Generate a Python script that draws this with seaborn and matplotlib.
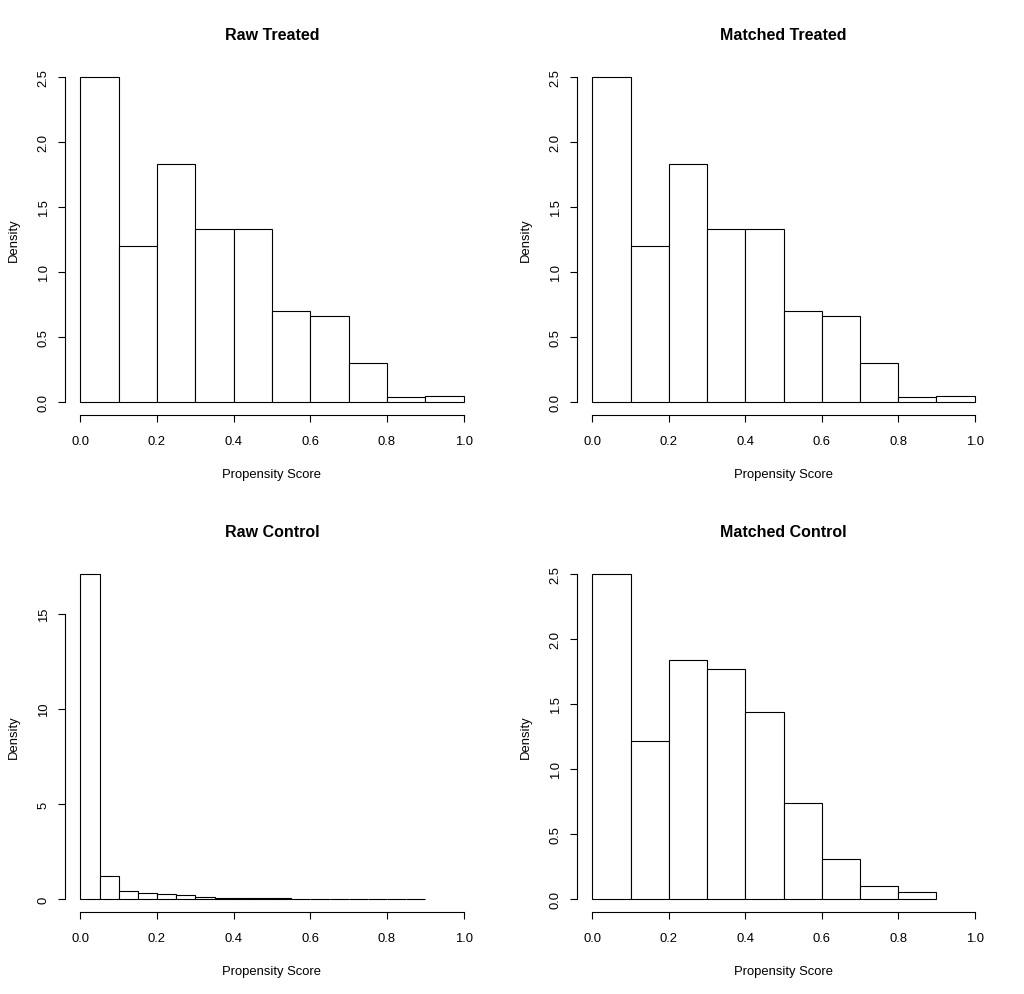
import numpy as np
import pandas as pd
import matplotlib
matplotlib.use("Agg")
import matplotlib.pyplot as plt
from matplotlib.ticker import FormatStrFormatter
import seaborn as sns

# histogram densities
treated_range = (0.0, 1.0)
treated_width = 0.1
raw_treated = [2.50, 1.20, 1.83, 1.33, 1.33, 0.70, 0.66, 0.30, 0.036, 0.05]
matched_treated = [2.50, 1.20, 1.83, 1.33, 1.33, 0.70, 0.66, 0.30, 0.036, 0.05]

raw_control_range = (0.0, 0.9)
raw_control_width = 0.05
raw_control = [17.12, 1.21, 0.42, 0.32, 0.26, 0.21, 0.105, 0.047, 0.047,
               0.047, 0.047, 0, 0, 0, 0, 0, 0, 0]

matched_control_range = (0.0, 0.9)
matched_control_width = 0.1
matched_control = [2.50, 1.216, 1.84, 1.77, 1.44, 0.74, 0.31, 0.10, 0.054]

x_ticks = [0.0, 0.2, 0.4, 0.6, 0.8, 1.0]
small_yticks = [0.0, 0.5, 1.0, 1.5, 2.0, 2.5]
big_yticks = [0, 5, 10, 15]

sns.set_style("ticks")
plt.rcParams['font.family'] = ['Liberation Sans', 'DejaVu Sans']
plt.rcParams.update({"text.color": "black", "axes.labelcolor": "black",
                     "xtick.color": "black", "ytick.color": "black",
                     "axes.edgecolor": "black"})

W, H = 1024, 995
fig = plt.figure(figsize=(W / 100, H / 100), dpi=100)


def add_panel(px_left, px_top, px_right, px_bottom):
    return fig.add_axes([px_left / W, 1 - px_bottom / H,
                         (px_right - px_left) / W, (px_bottom - px_top) / H])


def draw_hist(ax, binrange, binwidth, dens, title, yticks, yfmt):
    mids = binrange[0] + binwidth * (np.arange(len(dens)) + 0.5)
    df = pd.DataFrame({"score": mids, "density": dens})
    sns.histplot(data=df, x="score", weights="density", binrange=binrange,
                 binwidth=binwidth, stat="count", color="white",
                 edgecolor="black", linewidth=0.8, alpha=1, ax=ax)
    ymax = max(dens)
    ax.set_xlim(-0.04, 1.04)
    ax.set_ylim(-0.04 * ymax, 1.04 * ymax)
    for s in ["top", "right"]:
        ax.spines[s].set_visible(False)
    ax.spines["bottom"].set_bounds(0, 1)
    ax.spines["left"].set_bounds(yticks[0], yticks[-1])
    for s in ["bottom", "left"]:
        ax.spines[s].set_linewidth(0.8)
    ax.set_xticks(x_ticks)
    ax.xaxis.set_major_formatter(FormatStrFormatter('%.1f'))
    ax.set_yticks(yticks)
    ax.yaxis.set_major_formatter(FormatStrFormatter(yfmt))
    ax.tick_params(axis="both", length=5, width=0.8, labelsize=9.4)
    ax.tick_params(axis="x", pad=9.5)
    ax.tick_params(axis="y", pad=6)
    plt.setp(ax.get_yticklabels(), rotation=90, va="center")
    ax.set_xlabel("Propensity Score", fontsize=9.4, labelpad=15)
    ax.set_ylabel("Density", fontsize=9.4, labelpad=13)
    ax.set_title(title, fontsize=11.5, fontweight="bold", pad=18)
    ax.grid(False)


ax1 = add_panel(65, 65, 479, 416)
draw_hist(ax1, treated_range, treated_width, raw_treated, "Raw Treated",
          small_yticks, '%.1f')

ax2 = add_panel(577, 65, 990, 416)
draw_hist(ax2, treated_range, treated_width, matched_treated, "Matched Treated",
          small_yticks, '%.1f')

ax3 = add_panel(65, 562, 479, 913)
draw_hist(ax3, raw_control_range, raw_control_width, raw_control, "Raw Control",
          big_yticks, '%d')

ax4 = add_panel(577, 562, 990, 913)
draw_hist(ax4, matched_control_range, matched_control_width, matched_control,
          "Matched Control", small_yticks, '%.1f')

fig.savefig("out.png", dpi=100, facecolor="white")
